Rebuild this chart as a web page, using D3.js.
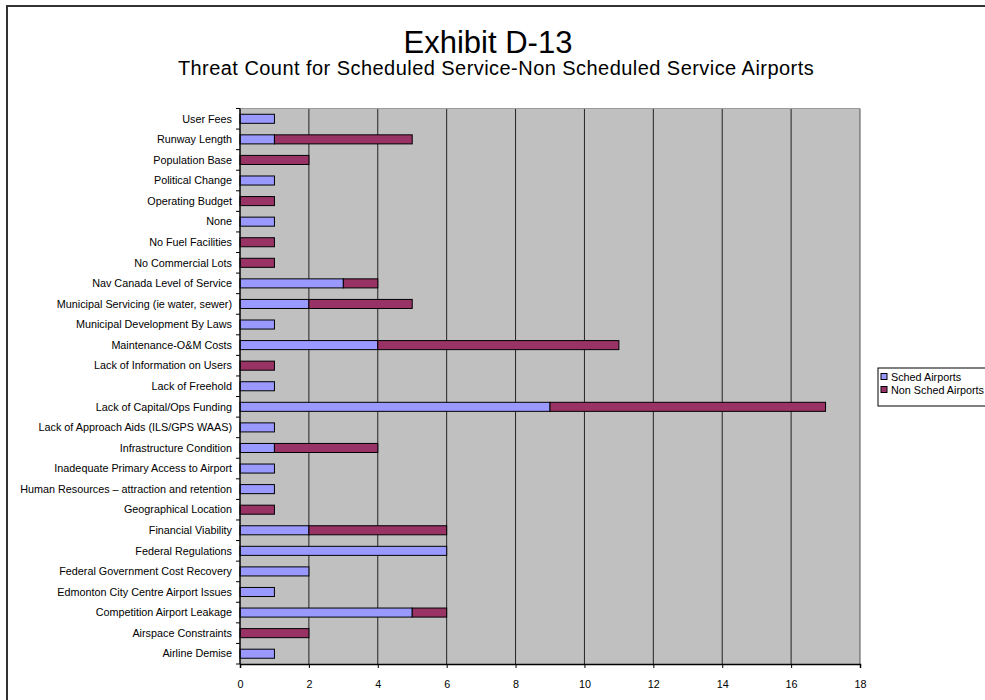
<!DOCTYPE html>
<html>
<head>
<meta charset="utf-8">
<script src="https://cdn.jsdelivr.net/npm/d3@7"></script>
<style>
  html, body { margin: 0; padding: 0; background: #fff; }
  svg { display: block; font-family: "Liberation Sans", Arial, sans-serif; }
</style>
</head>
<body>
<svg id="chart" width="985" height="700"></svg>
<script>
// Threat categories, listed top to bottom
const categories = [
  "User Fees",
  "Runway Length",
  "Population Base",
  "Political Change",
  "Operating Budget",
  "None",
  "No Fuel Facilities",
  "No Commercial Lots",
  "Nav Canada Level of Service",
  "Municipal Servicing (ie water, sewer)",
  "Municipal Development By Laws",
  "Maintenance-O&M Costs",
  "Lack of Information on Users",
  "Lack of Freehold",
  "Lack of Capital/Ops Funding",
  "Lack of Approach Aids (ILS/GPS WAAS)",
  "Infrastructure Condition",
  "Inadequate Primary Access to Airport",
  "Human Resources \u2013 attraction and retention",
  "Geographical Location",
  "Financial Viability",
  "Federal Regulations",
  "Federal Government Cost Recovery",
  "Edmonton City Centre Airport Issues",
  "Competition Airport Leakage",
  "Airspace Constraints",
  "Airline Demise"
];

// Threat counts per airport group
const schedAirports    = [1, 1, 0, 1, 0, 1, 0, 0, 3, 2, 1, 4, 0, 1, 9, 1, 1, 1, 1, 0, 2, 6, 2, 1, 5, 0, 1];
const nonSchedAirports = [0, 4, 2, 0, 1, 0, 1, 1, 1, 3, 0, 7, 1, 0, 8, 0, 3, 0, 0, 1, 4, 0, 0, 0, 1, 2, 0];

const seriesNames = ["Sched Airports", "Non Sched Airports"];
const seriesColors = ["#9999FF", "#993366"];
const xTicks = [0, 2, 4, 6, 8, 10, 12, 14, 16, 18];

const svg = d3.select("#chart");

// Outer chart frame
svg.append("rect")
  .attr("x", 7).attr("y", 6)
  .attr("width", 1000).attr("height", 720)
  .attr("fill", "#fff")
  .attr("stroke", "#333").attr("stroke-width", 2);

// Titles
svg.append("text")
  .attr("x", 488).attr("y", 53)
  .attr("text-anchor", "middle")
  .attr("font-size", 31)
  .attr("fill", "#000")
  .text("Exhibit D-13");
svg.append("text")
  .attr("x", 496).attr("y", 75)
  .attr("text-anchor", "middle")
  .attr("font-size", 20)
  .attr("letter-spacing", 0.45)
  .attr("fill", "#000")
  .text("Threat Count for Scheduled Service-Non Scheduled Service Airports");

const plot = { left: 240, right: 860, top: 108.5, bottom: 664 };

const x = d3.scaleLinear().domain([0, 18]).range([plot.left, plot.right]);
const y = d3.scaleBand().domain(categories).range([plot.top, plot.bottom]).paddingInner(0.56).paddingOuter(0.28);

// Plot background
svg.append("rect")
  .attr("x", plot.left).attr("y", plot.top)
  .attr("width", plot.right - plot.left).attr("height", plot.bottom - plot.top)
  .attr("fill", "#C0C0C0");

// Vertical gridlines
svg.append("g")
  .selectAll("line")
  .data(xTicks.filter(d => d > 0 && d < 18))
  .join("line")
  .attr("x1", d => x(d)).attr("x2", d => x(d))
  .attr("y1", plot.top).attr("y2", plot.bottom)
  .attr("stroke", "#222").attr("stroke-width", 1);

// Plot border (right and top)
svg.append("line")
  .attr("x1", plot.right).attr("x2", plot.right)
  .attr("y1", plot.top).attr("y2", plot.bottom)
  .attr("stroke", "#555").attr("stroke-width", 1);
svg.append("line")
  .attr("x1", plot.left).attr("x2", plot.right)
  .attr("y1", plot.top).attr("y2", plot.top)
  .attr("stroke", "#999").attr("stroke-width", 1);

// Stacked bars
const rows = categories.map((c, i) => ({ cat: c, sched: schedAirports[i], non: nonSchedAirports[i] }));
const stacked = d3.stack().keys(["sched", "non"])(rows);

const bars = svg.append("g");
stacked.forEach((layer, si) => {
  bars.append("g")
    .selectAll("rect")
    .data(layer.filter(d => d[1] - d[0] > 0))
    .join("rect")
    .attr("x", d => x(d[0]))
    .attr("y", d => y(d.data.cat))
    .attr("width", d => x(d[1]) - x(d[0]))
    .attr("height", y.bandwidth())
    .attr("fill", seriesColors[si])
    .attr("stroke", "#000").attr("stroke-width", 1);
});

// Category axis (ticks between categories)
const yAxisG = svg.append("g").attr("transform", `translate(${plot.left},0)`);
yAxisG.append("line")
  .attr("x1", 0).attr("x2", 0)
  .attr("y1", plot.top).attr("y2", plot.bottom)
  .attr("stroke", "#000").attr("stroke-width", 1.5);
const boundaries = d3.range(categories.length + 1).map(i => plot.top + i * (plot.bottom - plot.top) / categories.length);
yAxisG.selectAll("line.tick")
  .data(boundaries)
  .join("line")
  .attr("class", "tick")
  .attr("x1", -4).attr("x2", 0)
  .attr("y1", d => d).attr("y2", d => d)
  .attr("stroke", "#000");
yAxisG.selectAll("text")
  .data(categories)
  .join("text")
  .attr("x", -8)
  .attr("y", d => y(d) + y.bandwidth() / 2)
  .attr("dy", "0.35em")
  .attr("text-anchor", "end")
  .attr("font-size", 10.8)
  .attr("fill", "#000")
  .text(d => d);

// Value axis
const xAxis = d3.axisBottom(x).tickValues(xTicks).tickSize(4).tickPadding(12);
const xAxisG = svg.append("g")
  .attr("transform", `translate(0,${plot.bottom})`)
  .call(xAxis);
xAxisG.select(".domain").attr("stroke", "#000").attr("stroke-width", 1.5);
xAxisG.selectAll(".tick line").attr("stroke", "#000");
xAxisG.selectAll(".tick text")
  .attr("font-size", 10.8)
  .attr("font-family", "Liberation Sans, Arial, sans-serif")
  .attr("fill", "#000");

// Legend
const legend = svg.append("g").attr("transform", "translate(878,368)");
legend.append("rect")
  .attr("x", 0).attr("y", 0)
  .attr("width", 130).attr("height", 38)
  .attr("fill", "#fff").attr("stroke", "#000");
seriesNames.forEach((name, i) => {
  const g = legend.append("g").attr("transform", `translate(3,${9 + i * 13})`);
  g.append("rect")
    .attr("x", 0).attr("y", -3.5)
    .attr("width", 6).attr("height", 6)
    .attr("fill", seriesColors[i]).attr("stroke", "#000");
  g.append("text")
    .attr("x", 10).attr("y", 0)
    .attr("dy", "0.35em")
    .attr("font-size", 10.8)
    .attr("fill", "#000")
    .text(name);
});
</script>
</body>
</html>
